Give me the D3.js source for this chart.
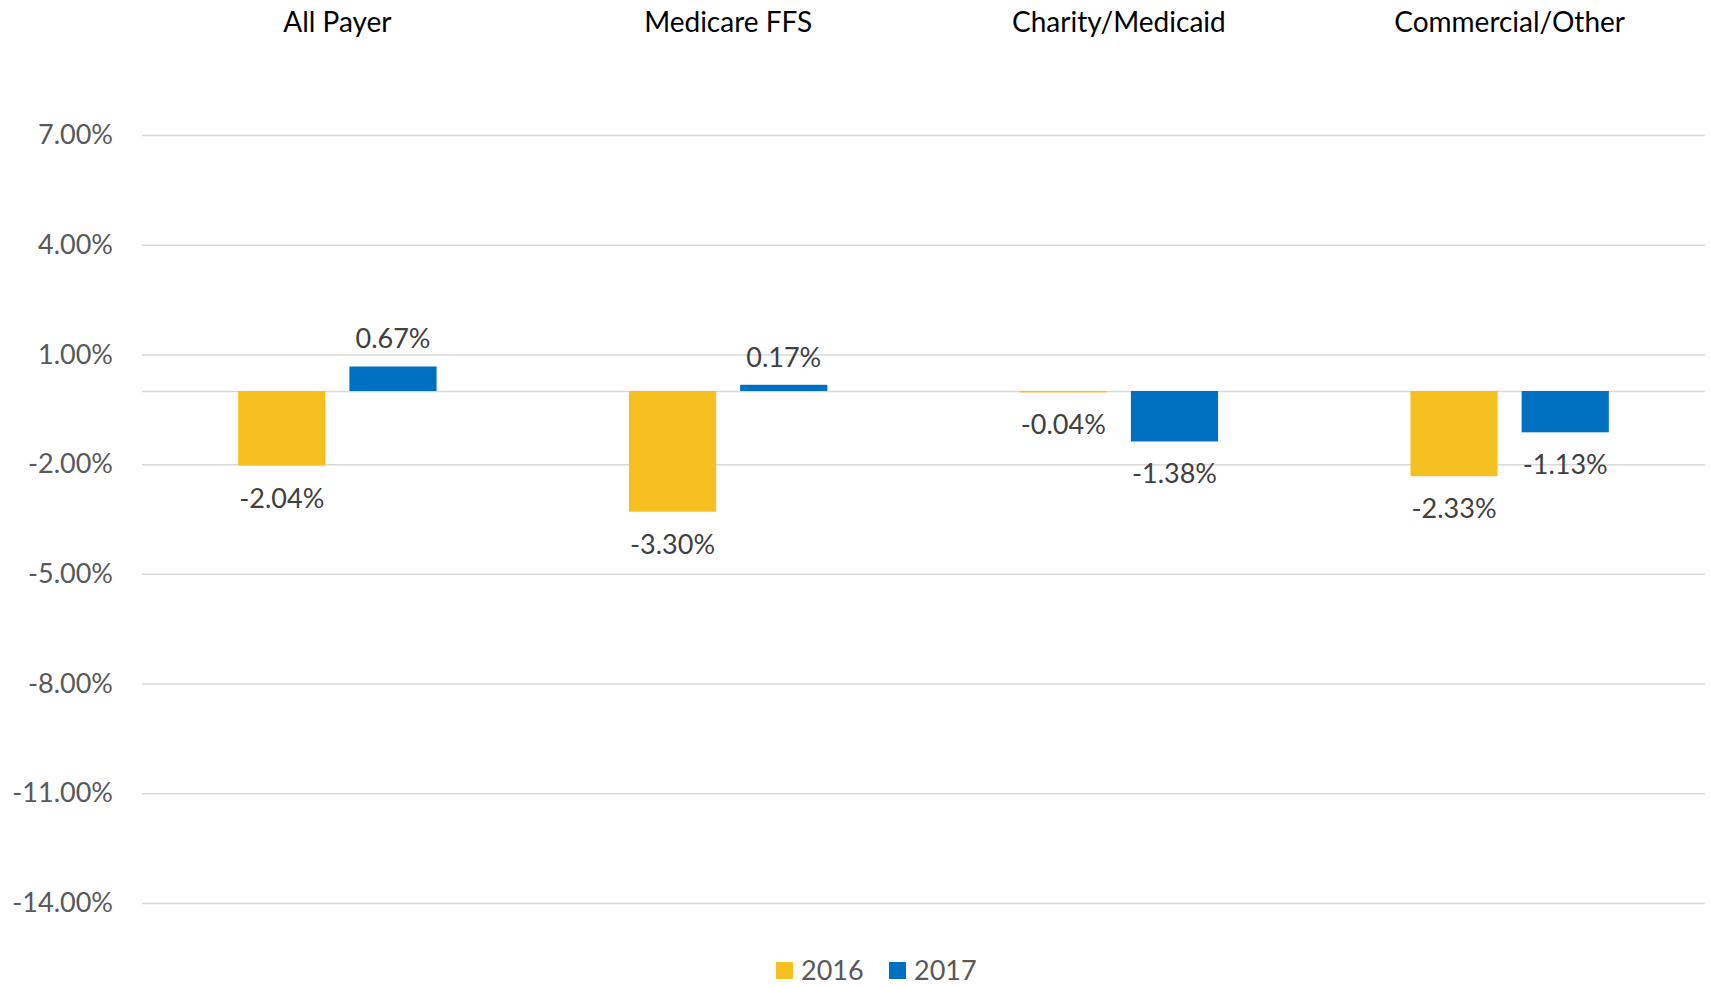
<!DOCTYPE html>
<html>
<head>
<meta charset="utf-8">
<script src="https://cdn.jsdelivr.net/npm/d3@7"></script>
<style>
  body { margin: 0; background: #fff; }
  svg text { font-family: "Gill Sans", "Lato", "Open Sans", sans-serif; }
</style>
</head>
<body>
<svg id="chart" width="1710" height="987"></svg>
<script>
var categories = ["All Payer", "Medicare FFS", "Charity/Medicaid", "Commercial/Other"];
var years = ["2016", "2017"];
var values2016 = [-2.04, -3.30, -0.04, -2.33];
var values2017 = [0.67, 0.17, -1.38, -1.13];
var yTicks = [-14, -11, -8, -5, -2, 1, 4, 7];
var colors = ["#F6C120", "#0070C0"];

var svg = d3.select('#chart');
var plotLeft = 142, plotRight = 1705, plotTop = 135, plotBottom = 903;

var x = d3.scaleBand().domain(categories).range([plotLeft, plotRight]);
var y = d3.scaleLinear().domain([-14, 7]).range([plotBottom, plotTop]);
var color = d3.scaleOrdinal().domain(years).range(colors);

// plain hyphen for negatives, like the original
var pct = d => d3.format('.2f')(d).replace('\u2212', '-') + '%';

// grid lines
var grid = svg.append('g')
    .attr('transform', 'translate(' + plotLeft + ',0)')
    .call(d3.axisLeft(y).tickValues(yTicks.concat([0])).tickSize(-(plotRight - plotLeft)).tickFormat(''));
grid.select('.domain').remove();
grid.selectAll('line').attr('stroke', '#d9d9d9').attr('stroke-width', 1.5);

// y axis labels
var yAxis = svg.append('g')
    .attr('transform', 'translate(113,0)')
    .call(d3.axisLeft(y).tickValues(yTicks).tickSize(0).tickPadding(0).tickFormat(pct));
yAxis.select('.domain').remove();
yAxis.selectAll('text')
    .attr('font-size', '27px')
    .attr('fill', '#595959');

// category titles on top
svg.selectAll('.cat-title')
    .data(categories)
    .enter()
    .append('text')
    .attr('class', 'cat-title')
    .attr('x', d => x(d) + x.bandwidth() / 2)
    .attr('y', 32)
    .attr('text-anchor', 'middle')
    .attr('font-size', '28px')
    .attr('fill', '#000')
    .text(d => d);

// table of bars
var rows = [];
categories.forEach(function (c, i) {
    rows.push({ cat: c, year: '2016', value: values2016[i] });
    rows.push({ cat: c, year: '2017', value: values2017[i] });
});

var groupHalf = 99.2;
function sub(cat) {
    var c = x(cat) + x.bandwidth() / 2;
    return d3.scaleBand().domain(years).range([c - groupHalf, c + groupHalf]).paddingInner(0.216);
}

var bars = svg.append('g');
bars.selectAll('rect')
    .data(rows)
    .enter()
    .append('rect')
    .attr('x', d => sub(d.cat)(d.year))
    .attr('width', d => sub(d.cat).bandwidth())
    .attr('y', d => y(Math.max(0, d.value)))
    .attr('height', d => Math.abs(y(d.value) - y(0)))
    .attr('fill', d => color(d.year));

// data labels
bars.selectAll('text')
    .data(rows)
    .enter()
    .append('text')
    .attr('x', d => sub(d.cat)(d.year) + sub(d.cat).bandwidth() / 2)
    .attr('y', d => d.value >= 0 ? y(d.value) - 18 : y(d.value) + 42)
    .attr('text-anchor', 'middle')
    .attr('font-size', '27px')
    .attr('fill', '#404040')
    .text(d => pct(d.value));

// legend
var legend = svg.append('g').attr('transform', 'translate(776,962)');
var legendItems = legend.selectAll('.legend-item')
    .data(years)
    .enter()
    .append('g')
    .attr('class', 'legend-item')
    .attr('transform', (d, i) => 'translate(' + (i * 113) + ',0)');

legendItems.append('rect')
    .attr('width', 17)
    .attr('height', 17)
    .attr('fill', d => color(d));

legendItems.append('text')
    .attr('x', 25)
    .attr('y', 9)
    .attr('dy', '0.35em')
    .attr('font-size', '27px')
    .attr('fill', '#595959')
    .text(d => d);
</script>
</body>
</html>
